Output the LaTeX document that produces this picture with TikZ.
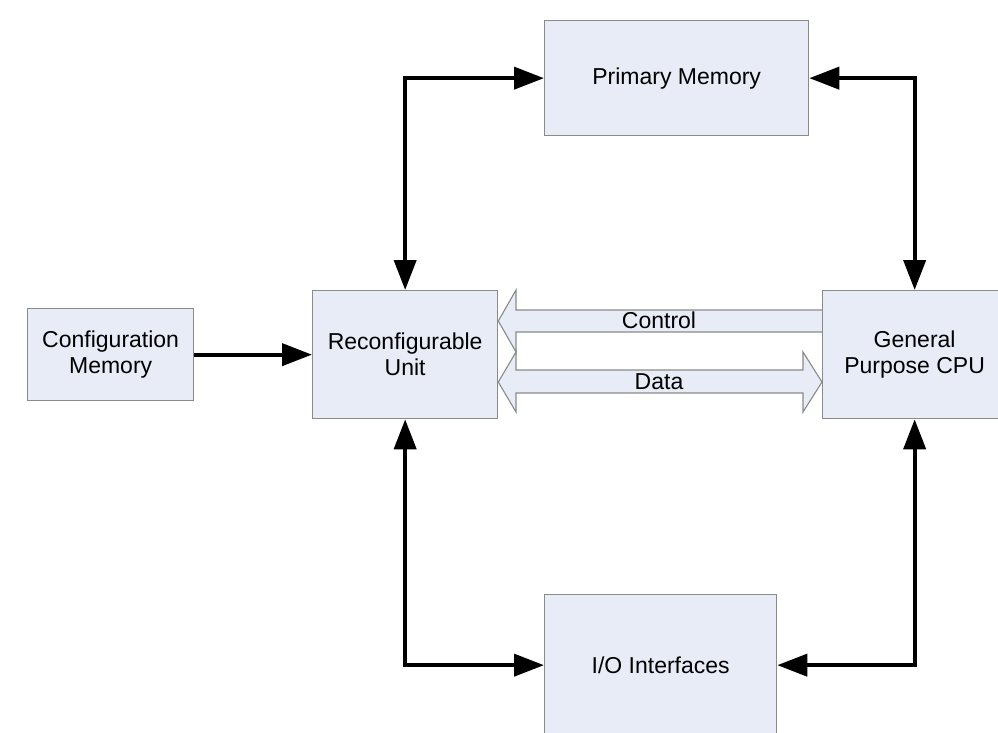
\documentclass[tikz,border=0pt]{standalone}
\usepackage{fontspec}
\setmainfont{Liberation Sans}
\usetikzlibrary{arrows.meta,calc}
\definecolor{boxfill}{HTML}{E8ECF6}
\definecolor{boxline}{HTML}{8A8A8A}
\pgfdeclarelayer{bg}
\pgfsetlayers{bg,main}
\begin{document}
\begin{tikzpicture}[x=1pt,y=-1pt,
  blk/.style={draw=boxline, fill=boxfill, line width=1.3pt, align=center,
    font=\fontsize{23}{26}\selectfont, inner sep=0pt, anchor=north west},
  lbl/.style={font=\fontsize{23}{26}\selectfont, inner sep=0pt},
  tip/.tip={Triangle[length=30pt,width=22pt]},
  conn/.style={line width=4pt, -tip},
  bconn/.style={line width=4pt, tip-tip},
  barrow/.style={draw=boxline, fill=boxfill, line width=1.1pt, line join=miter}]
\useasboundingbox (0,0) rectangle (998,732);
\clip (0,0) rectangle (998,732);

\node[blk, minimum width=264pt, minimum height=115pt] (pm) at (544,20) {Primary Memory};
\node[blk, minimum width=166pt, minimum height=92pt] (cm) at (27,308) {Configuration\\Memory};
\node[blk, minimum width=185pt, minimum height=128pt] (ru) at (312,290) {Reconfigurable\\Unit};
\node[blk, minimum width=184pt, minimum height=128pt] (cpu) at (822,290) {General\\Purpose CPU};
\node[blk, minimum width=232pt, minimum height=141pt] (io) at (544,594) {I/O Interfaces};

\begin{pgfonlayer}{bg}
  % Control block arrow (CPU -> RU)
  \draw[barrow] (cpu.west |- 0,310) -- (516,310) -- (516,290) -- (ru.east |- 0,321)
    -- (516,352) -- (516,332) -- (cpu.west |- 0,332);
  % Data block arrow (RU <-> CPU)
  \draw[barrow] (ru.east |- 0,382) -- (516,352) -- (516,370) -- (803,370) -- (803,352)
    -- (cpu.west |- 0,382) -- (803,412) -- (803,393) -- (516,393) -- (516,412) -- cycle;
\end{pgfonlayer}
\node[lbl] (ctl) at (659,320) {Control};
\node[lbl] (dat) at (659,382) {Data};

\draw[conn] (cm.east) -- (ru.west);
\draw[bconn] (ru.north) |- (pm.west);
\draw[bconn] (cpu.north) |- (pm.east);
\draw[bconn] (ru.south) |- (io.west);
\draw[bconn] (cpu.south) |- (io.east);
\end{tikzpicture}
\end{document}
